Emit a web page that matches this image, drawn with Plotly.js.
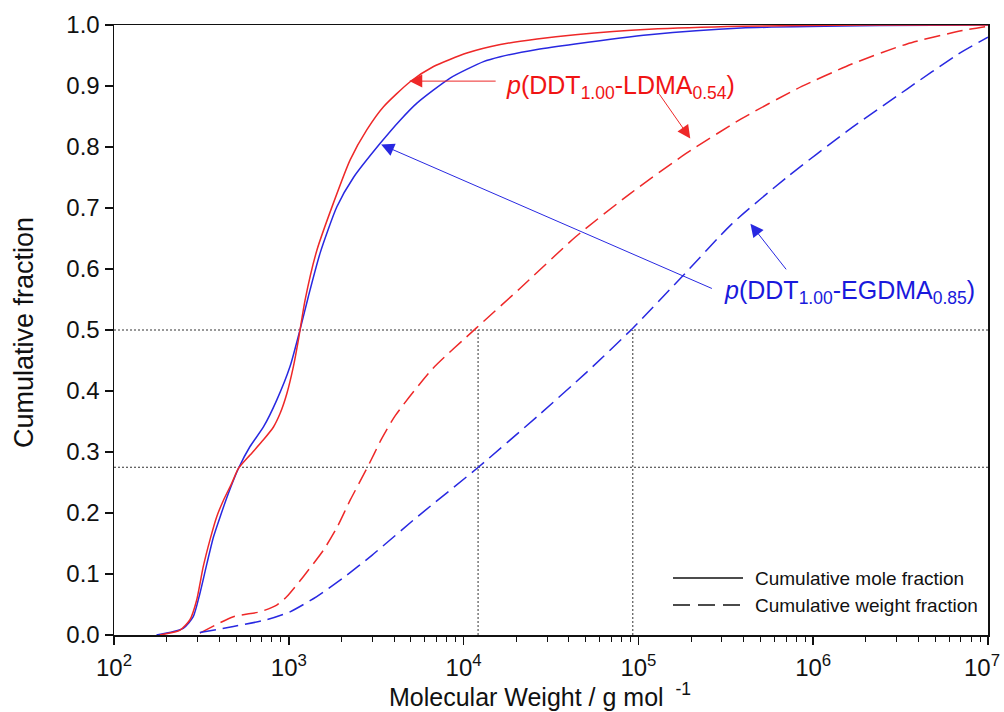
<!DOCTYPE html>
<html>
<head>
<meta charset="utf-8">
<script src="https://cdn.plot.ly/plotly-3.0.1.min.js"></script>
<style>html,body{margin:0;padding:0;background:#fff;}#chart{width:1004px;height:712px;}</style>
</head>
<body>
<div id="chart"></div>
<script>
// ---- data (molecular weight in g/mol, cumulative fraction) ----
var ldmaMoleMW = [183, 239, 272, 297, 324, 354, 387, 423, 472, 515, 600, 716, 817, 891, 975, 1062, 1135, 1161, 1239, 1445, 1799, 2244, 2793, 3483, 4943, 6730, 10440, 16220, 26300, 43550, 115100, 387300, 2000000, 10000000];
var ldmaMoleY  = [0.000, 0.008, 0.025, 0.057, 0.112, 0.156, 0.194, 0.221, 0.249, 0.273, 0.295, 0.320, 0.341, 0.363, 0.396, 0.440, 0.484, 0.501, 0.549, 0.630, 0.708, 0.779, 0.828, 0.866, 0.907, 0.932, 0.954, 0.968, 0.977, 0.984, 0.993, 0.998, 1.000, 1.000];

var egdmaMoleMW = [175, 249, 284, 310, 340, 371, 405, 451, 515, 600, 716, 853, 1016, 1161, 1294, 1510, 1884, 2344, 3334, 4335, 5408, 8375, 13000, 16220, 26300, 43450, 115100, 387300, 2400000, 10000000];
var egdmaMoleY  = [0.000, 0.011, 0.030, 0.068, 0.117, 0.161, 0.194, 0.232, 0.273, 0.309, 0.341, 0.385, 0.440, 0.501, 0.555, 0.626, 0.702, 0.750, 0.806, 0.844, 0.872, 0.913, 0.940, 0.948, 0.960, 0.969, 0.984, 0.995, 0.999, 1.000];

var ldmaWeightMW = [310, 482, 685, 853, 975, 1213, 1578, 1884, 2244, 2831, 3388, 4074, 6622, 11800, 20990, 43450, 90160, 186600, 387300, 801700, 1663000, 3443000, 7145000, 10000000];
var ldmaWeightY  = [0.003, 0.030, 0.038, 0.049, 0.063, 0.096, 0.139, 0.176, 0.221, 0.276, 0.321, 0.360, 0.436, 0.503, 0.568, 0.652, 0.724, 0.789, 0.846, 0.895, 0.936, 0.969, 0.991, 0.998];

var egdmaWeightMW = [310, 482, 748, 1016, 1445, 2056, 3000, 5500, 12140, 26790, 50700, 92900, 175800, 342800, 711200, 1563000, 3443000, 6730000, 10000000];
var egdmaWeightY  = [0.004, 0.014, 0.025, 0.038, 0.063, 0.094, 0.131, 0.195, 0.275, 0.360, 0.431, 0.503, 0.586, 0.674, 0.751, 0.826, 0.895, 0.952, 0.980];

// reference (dotted) guide lines
var refLevelsY = [0.5, 0.275];
var refMW = [12100, 92900];
var xRangeMW = [100, 10000000];

// axis ticks
var xTickVals = [100, 1000, 10000, 100000, 1000000, 10000000];
var xTickText = ['10<sup>2</sup>', '10<sup>3</sup>', '10<sup>4</sup>', '10<sup>5</sup>', '10<sup>6</sup>', '10<sup>7</sup>\u2002'];

// labels
var ldmaLabel = '<i>p</i>(DDT<sub>1.00</sub>-LDMA<sub>0.54</sub>)';
var egdmaLabel = '<i>p</i>(DDT<sub>1.00</sub>-EGDMA<sub>0.85</sub>)';
var legendLabels = ['Cumulative mole fraction', 'Cumulative weight fraction'];
var xTitle = 'Molecular Weight / g mol <sup> -1</sup>';
var yTitle = 'Cumulative fraction';

// arrow tips / tails [MW, y]
var ldmaArrowTips  = [[4887, 0.908], [198000, 0.814]];
var ldmaArrowTails = [[15560, 0.908], [130000, 0.889]];
var egdmaArrowTips  = [[3375, 0.804], [437500, 0.674]];
var egdmaArrowTails = [[268500, 0.567], [711200, 0.597]];

// ---- styling ----
var RED = 'rgb(238,40,40)';
var BLUE = 'rgb(40,40,225)';
var RED_T = 'rgb(240,20,20)';
var BLUE_T = 'rgb(25,25,220)';
var FONT = 'Liberation Sans, Arial, sans-serif';
var DASH = '16px,7px';

var traces = [];
refLevelsY.forEach(function (v) {
  traces.push({x: xRangeMW, y: [v, v], mode: 'lines', line: {color: '#333', width: 1, dash: '2px,2px'}, hoverinfo: 'skip', showlegend: false});
});
refMW.forEach(function (v) {
  traces.push({x: [v, v], y: [0, refLevelsY[0]], mode: 'lines', line: {color: '#333', width: 1, dash: '2px,2px'}, hoverinfo: 'skip', showlegend: false});
});
function curve(x, y, color, dash) {
  return {x: x, y: y, mode: 'lines', line: {color: color, width: 1.5, dash: dash, shape: 'spline', smoothing: 0.6}, showlegend: false};
}
traces.push(curve(ldmaWeightMW, ldmaWeightY, RED, DASH));
traces.push(curve(egdmaWeightMW, egdmaWeightY, BLUE, DASH));
traces.push(curve(egdmaMoleMW, egdmaMoleY, BLUE, 'solid'));
traces.push(curve(ldmaMoleMW, ldmaMoleY, RED, 'solid'));

var L = Math.log10;
function arrow(tip, tail, color) {
  return {x: L(tip[0]), y: tip[1], ax: L(tail[0]), ay: tail[1], xref: 'x', yref: 'y', axref: 'x', ayref: 'y',
    text: '', showarrow: true, arrowhead: 2, arrowsize: 2.6, arrowwidth: 1, arrowcolor: color, standoff: 0, startstandoff: 0};
}
var annotations = [];
ldmaArrowTips.forEach(function (t, i) { annotations.push(arrow(t, ldmaArrowTails[i], RED)); });
egdmaArrowTips.forEach(function (t, i) { annotations.push(arrow(t, egdmaArrowTails[i], BLUE)); });

annotations.push({xref: 'paper', yref: 'paper', x: (504 - 114) / 874, y: (635 - 87) / 610, xanchor: 'left', yanchor: 'middle',
  text: ldmaLabel, showarrow: false, font: {family: FONT, size: 25, color: RED_T}});
annotations.push({xref: 'paper', yref: 'paper', x: (722 - 114) / 874, y: (635 - 292) / 610, xanchor: 'left', yanchor: 'middle',
  text: egdmaLabel, showarrow: false, font: {family: FONT, size: 25, color: BLUE_T}});

// axis titles
annotations.push({xref: 'paper', yref: 'paper', x: (540 - 114) / 874, y: (635 - 695) / 610, xanchor: 'center', yanchor: 'middle',
  text: xTitle, showarrow: false, font: {family: FONT, size: 25, color: '#111'}});
annotations.push({xref: 'paper', yref: 'paper', x: (24 - 114) / 874, y: (635 - 333) / 610, xanchor: 'center', yanchor: 'middle',
  textangle: -90, text: yTitle, showarrow: false, font: {family: FONT, size: 27, color: '#111'}});

// manual legend
var shapes = [];
var legRowsPy = [578, 605];
legRowsPy.forEach(function (py, i) {
  var yp = (635 - py) / 610;
  shapes.push({type: 'line', xref: 'paper', yref: 'paper', x0: (673 - 114) / 874, x1: (743 - 114) / 874, y0: yp, y1: yp,
    line: {color: '#111', width: 1.5, dash: i === 0 ? 'solid' : '17px,8px'}});
  annotations.push({xref: 'paper', yref: 'paper', x: (753 - 114) / 874, y: yp, xanchor: 'left', yanchor: 'middle',
    text: legendLabels[i], showarrow: false, font: {family: FONT, size: 19, color: '#111'}});
});

var layout = {
  width: 1004, height: 712,
  margin: {l: 114, r: 16, t: 25, b: 77},
  paper_bgcolor: '#fff', plot_bgcolor: '#fff',
  showlegend: false,
  font: {family: FONT, color: '#111'},
  xaxis: {
    type: 'log', range: [2, 7], tickmode: 'array', tickvals: xTickVals, ticktext: xTickText,
    showline: true, linecolor: '#111', linewidth: 1.5, mirror: true,
    ticks: 'outside', ticklen: 8, tickwidth: 1.5, tickcolor: '#111',
    ticklabeloverflow: 'allow', ticklabelstandoff: 3,
    showgrid: false, zeroline: false,
    tickfont: {family: FONT, size: 24, color: '#111'},
    minor: {ticks: 'outside', ticklen: 5, tickwidth: 1, tickcolor: '#111', dtick: 'D1', showgrid: false}
  },
  yaxis: {
    range: [0, 1], dtick: 0.1, tickformat: '.1f',
    showline: true, linecolor: '#111', linewidth: 1.5, mirror: true,
    ticks: 'outside', ticklen: 8, tickwidth: 1.5, tickcolor: '#111',
    showgrid: false, zeroline: false,
    tickfont: {family: FONT, size: 24, color: '#111'}
  },
  annotations: annotations,
  shapes: shapes
};

Plotly.newPlot('chart', traces, layout, {staticPlot: true, displayModeBar: false});
</script>
</body>
</html>
